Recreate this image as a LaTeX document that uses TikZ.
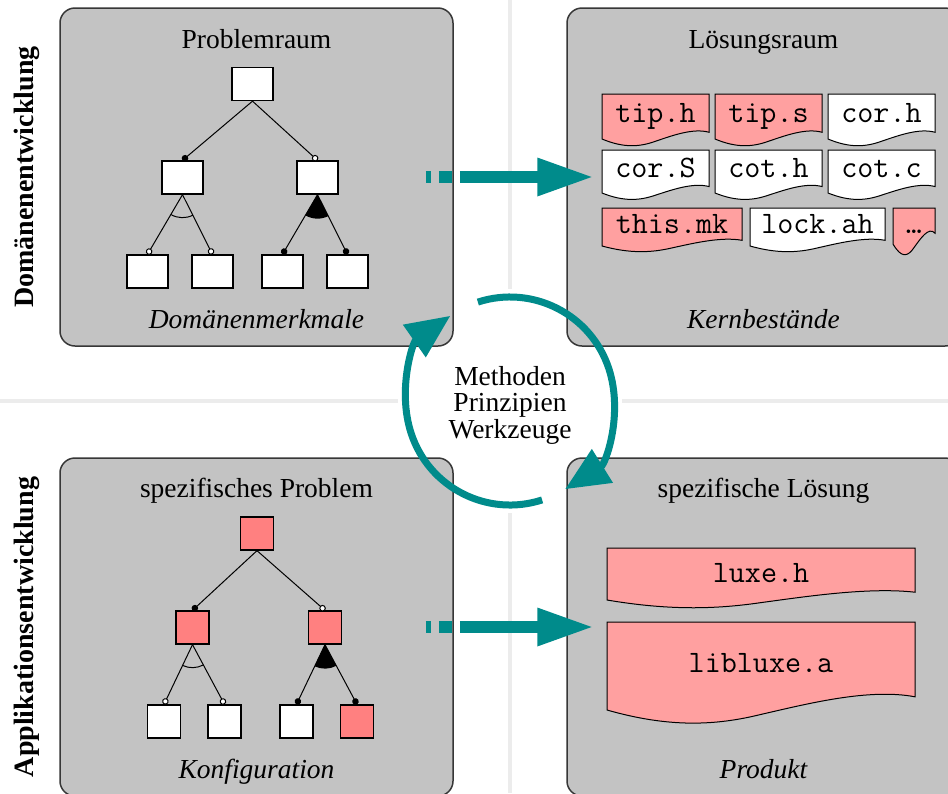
\documentclass[tikz,border=0pt]{standalone}
\usepackage{fontspec}
\setmainfont{Liberation Serif}
\usetikzlibrary{arrows.meta,calc}
\definecolor{panelgray}{RGB}{195,195,195}
\definecolor{teal1}{RGB}{0,139,139}
\definecolor{boxpink}{RGB}{255,128,128}
\definecolor{docpink}{RGB}{255,160,160}
\definecolor{sepgray}{RGB}{236,236,236}
\definecolor{bordergray}{RGB}{55,55,55}
\tikzset{
  panel/.style={draw=bordergray, line width=1.5pt, fill=panelgray, rounded corners=15pt, minimum width=393pt, minimum height=338pt, inner sep=0pt},
  fbox/.style={draw=black, line width=1.3pt, fill=white, inner sep=0pt},
  bigbox/.style={fbox, minimum width=41pt, minimum height=33pt},
  sqbox/.style={fbox, minimum width=33pt, minimum height=33pt},
  treeedge/.style={line width=1pt},
  mand/.style={treeedge, -{Circle[length=6.5pt]}},
  opt/.style={treeedge, -{Circle[open,fill=white,length=6.5pt]}},
  title/.style={anchor=base, font=\fontsize{27.5}{27.5}\selectfont},
  subtitle/.style={anchor=base, font=\fontsize{27.5}{27.5}\selectfont\itshape},
  side/.style={rotate=90, anchor=base, font=\fontsize{28}{28}\selectfont\bfseries},
  docline/.style={draw=black, line width=1pt},
  doctext/.style={font=\fontsize{31.2}{31.2}\selectfont\ttfamily, inner sep=0pt, anchor=base},
  bigarrow/.style={draw=teal1, line width=12pt, -{Triangle[length=57pt,width=35pt]}, dash pattern=on 5pt off 8pt on 13pt off 8pt on 400pt off 1pt},
  cyclearrow/.style={draw=teal1, line width=7pt, -{Triangle[length=44pt,width=38pt]}},
  sepline/.style={draw=sepgray, line width=4pt},
}
% #1 name, #2 fill, #3 L, #4 T, #5 R, #6 B, #7 text, #8 baseline, #9 wave factor
\newcommand\mydoc[9]{%
  \pgfmathsetmacro\dw{#5-#3}%
  \pgfmathsetmacro\dh{(#6-#4)*#9}%
  \filldraw[docline, fill=#2] (#3,#4) -- (#5,#4) -- (#5,{#6-0.15*\dh})
    .. controls ({#5-0.15*\dw},{#6-0.25*\dh}) and ({#3+0.65*\dw},{#6-0.07*\dh}) .. ({#3+0.5*\dw},{#6+0.05*\dh})
    .. controls ({#3+0.35*\dw},{#6+0.18*\dh}) and ({#3+0.2*\dw},{#6+0.2*\dh}) .. (#3,#6) -- cycle;
  \node[doctext] (#1) at ({(#3+#5)/2},#8) {#7};
}
\begin{document}
\begin{tikzpicture}[x=1pt,y=-1pt]
\useasboundingbox (0,0) rectangle (948,793);
\fill[white] (0,0) rectangle (948,793);
% separators
\draw[sepline] (0,401) -- (948,401);
\draw[sepline] (510,0) -- (510,793);
\coordinate (cyc) at (510,401);
\fill[white] (cyc) circle[radius=112pt];
% panels
\node[panel] (tl) at (256.5,177) {};
\node[panel] (tr) at (763.5,177) {};
\node[panel] (bl) at (256.5,627) {};
\node[panel] (br) at (763.5,627) {};
% side labels
\node[side] (sd) at (34,177) {Domänenentwicklung};
\node[side] (sa) at (34,627) {Applikationsentwicklung};
% titles
\node[title] (t1) at (256.5,48) {Problemraum};
\node[title] (t2) at (763.5,48) {Lösungsraum};
\node[title] (t3) at (256.5,497) {spezifisches Problem};
\node[title] (t4) at (763.5,497) {spezifische Lösung};
\node[subtitle] (u1) at (256.5,328) {Domänenmerkmale};
\node[subtitle] (u2) at (763.5,328) {Kernbestände};
\node[subtitle] (u3) at (256.5,778) {Konfiguration};
\node[subtitle] (u4) at (763.5,778) {Produkt};
% top tree
\node[bigbox] (r) at (252.5,84) {};
\node[bigbox] (ml) at (182.5,177.5) {};
\node[bigbox] (mr) at (317.5,177.5) {};
\node[bigbox] (a1) at (147.5,271.5) {};
\node[bigbox] (a2) at (212.5,271.5) {};
\node[bigbox] (a3) at (282.5,271.5) {};
\node[bigbox] (a4) at (347.5,271.5) {};
\draw[mand] (r.south) -- (ml.north);
\draw[opt] (r.south) -- (mr.north);
\draw[opt] (ml.south) -- (a1.north);
\draw[opt] (ml.south) -- (a2.north);
\draw[mand] (mr.south) -- (a3.north);
\draw[mand] (mr.south) -- (a4.north);
\draw[treeedge] let \p1=($(a1.north)-(ml.south)$), \p2=($(a2.north)-(ml.south)$), \n1={atan2(\y1,\x1)}, \n2={atan2(\y2,\x2)} in
  ($(ml.south)+(\n2:23pt)$) arc[start angle=\n2, end angle=\n1, radius=23pt];
\fill let \p1=($(a3.north)-(mr.south)$), \p2=($(a4.north)-(mr.south)$), \n1={atan2(\y1,\x1)}, \n2={atan2(\y2,\x2)} in
  (mr.south) -- ($(mr.south)+(\n2:24pt)$) arc[start angle=\n2, end angle=\n1, radius=24pt] -- cycle;
% bottom tree
\node[sqbox, fill=boxpink] (br0) at (257,533.5) {};
\node[sqbox, fill=boxpink] (bml) at (192.5,627.5) {};
\node[sqbox, fill=boxpink] (bmr) at (325,627.5) {};
\node[sqbox] (b1) at (164,721.5) {};
\node[sqbox] (b2) at (224.5,721.5) {};
\node[sqbox] (b3) at (296.5,721.5) {};
\node[sqbox, fill=boxpink] (b4) at (357,721.5) {};
\draw[mand] (br0.south) -- (bml.north);
\draw[opt] (br0.south) -- (bmr.north);
\draw[opt] (bml.south) -- (b1.north);
\draw[opt] (bml.south) -- (b2.north);
\draw[mand] (bmr.south) -- (b3.north);
\draw[mand] (bmr.south) -- (b4.north);
\draw[treeedge] let \p1=($(b1.north)-(bml.south)$), \p2=($(b2.north)-(bml.south)$), \n1={atan2(\y1,\x1)}, \n2={atan2(\y2,\x2)} in
  ($(bml.south)+(\n2:23pt)$) arc[start angle=\n2, end angle=\n1, radius=23pt];
\fill let \p1=($(b3.north)-(bmr.south)$), \p2=($(b4.north)-(bmr.south)$), \n1={atan2(\y1,\x1)}, \n2={atan2(\y2,\x2)} in
  (bmr.south) -- ($(bmr.south)+(\n2:24pt)$) arc[start angle=\n2, end angle=\n1, radius=24pt] -- cycle;
% documents top right
\mydoc{d1}{docpink}{602}{94}{709}{139}{tip.h}{122}{1}
\mydoc{d2}{docpink}{715}{94}{822}{139}{tip.s}{122}{1}
\mydoc{d3}{white}{828}{94}{935}{139}{cor.h}{122}{1}
\mydoc{d4}{white}{602}{150}{709}{193}{cor.S}{177}{1}
\mydoc{d5}{white}{715}{150}{822}{193}{cot.h}{177}{1}
\mydoc{d6}{white}{828}{150}{935}{193}{cot.c}{177}{1}
\mydoc{d7}{docpink}{602}{208}{742}{246}{this.mk}{233}{1}
\mydoc{d8}{white}{750}{208}{885}{246}{lock.ah}{233}{1}
\mydoc{d9}{docpink}{893}{208}{935}{244}{…}{233}{2}
% documents bottom right
\mydoc{e1}{docpink}{607}{548}{915}{600}{luxe.h}{582}{1}
\mydoc{e2}{docpink}{607}{622}{915}{710}{libluxe.a}{672}{1}
% horizontal arrows
\draw[bigarrow, shorten <=-28pt, shorten >=-28pt] (tl.east) -- (tr.west);
\draw[bigarrow, shorten <=-28pt, shorten >=-28pt] (bl.east) -- (br.west);
% cycle
\node[align=center, font=\fontsize{27.5}{26.5}\selectfont] (mpw) at (510,405) {Methoden\\Prinzipien\\Werkzeuge};
\draw[cyclearrow] ($(cyc)+(-72:104pt)$) arc[start angle=-72, end angle=-235, radius=104pt];
\draw[cyclearrow] ($(cyc)+(108:104pt)$) arc[start angle=108, end angle=-58, radius=104pt];
\end{tikzpicture}
\end{document}
